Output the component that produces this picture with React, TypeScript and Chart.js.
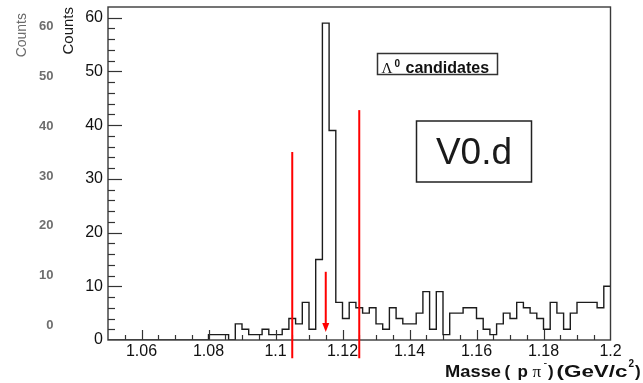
import React, { useEffect, useRef } from "react";
import { Chart, registerables } from "chart.js";

Chart.register(...registerables);

// ---- data ----
const binLow = 1.05;
const binWidth = 0.002;
const counts = [
  0, 0, 0, 0, 0, 0, 0, 0, 0, 0, 0, 0, 0, 0, 0,
  1, 1, 1, 0, 3, 2, 1, 1, 2, 1, 1, 2, 4, 3, 7, 2, 15, 59, 39, 7,
  4, 7, 6, 5, 6, 3, 2, 6, 4, 3, 3, 5, 9, 2, 9, 1, 5, 5, 6, 6,
  4, 2, 1, 3, 5, 4, 7, 6, 5, 4, 2, 7, 5, 2, 5, 7, 7, 7, 6, 10,
];
const xMin = 1.05;
const xMax = 1.2;
const yMin = 0;
const yMax = 62;
const xTicks = [1.06, 1.08, 1.1, 1.12, 1.14, 1.16, 1.18, 1.2];
const xTickLabels = ["1.06", "1.08", "1.1", "1.12", "1.14", "1.16", "1.18", "1.2"];
const yTicks = [0, 10, 20, 30, 40, 50, 60];
const yTickLabels = ["0", "10", "20", "30", "40", "50", "60"];
const xMinorStep = 0.005;
const yMinorStep = 2;

const cutPositions = [1.105, 1.125];
const cutTops = [35, 42.8];
const cutBottom = -3.4;
const arrowX = 1.115;
const arrowTop = 12.7;
const arrowTip = 1.5;

const ghostTicks = [60, 50, 40, 30, 20, 10, 0];
const ghostTickLabels = ["60", "50", "40", "30", "20", "10", "0"];

const yTitle = "Counts";
const legendLabel = "candidates";
const legendSymbol = "Λ";
const legendSup = "0";
const boxText = "V0.d";

const FONT = "'Liberation Sans', Arial, Helvetica, sans-serif";
const SERIF = "'Liberation Serif', 'DejaVu Serif', serif";

const overlayPlugin = {
  id: "rootOverlay",
  afterDraw(chart: any) {
    const ctx = chart.ctx as CanvasRenderingContext2D;
    const xs = chart.scales.x;
    const ys = chart.scales.y;
    const yg = chart.scales.y2;
    const { left, right, top, bottom } = chart.chartArea;
    ctx.save();

    // frame
    ctx.strokeStyle = "#3a3a3a";
    ctx.lineWidth = 1.4;
    ctx.strokeRect(left, top, right - left, bottom - top);

    // x ticks (inward)
    ctx.strokeStyle = "#333";
    ctx.lineWidth = 1.2;
    for (let k = 1; xMin + k * xMinorStep < xMax - 1e-9; k++) {
      const v = xMin + k * xMinorStep;
      const major = xTicks.some((t) => Math.abs(t - v) < 1e-6);
      const px = Math.round(xs.getPixelForValue(v)) + 0.5;
      ctx.beginPath();
      ctx.moveTo(px, bottom);
      ctx.lineTo(px, bottom - (major ? 10 : 5));
      ctx.stroke();
    }
    // y ticks (inward)
    for (let v = yMinorStep; v < yMax; v += yMinorStep) {
      const major = v % 10 === 0;
      const py = Math.round(ys.getPixelForValue(v)) + 0.5;
      ctx.beginPath();
      ctx.moveTo(left, py);
      ctx.lineTo(left + (major ? 14 : 7), py);
      ctx.stroke();
    }

    // red cut lines
    ctx.strokeStyle = "#ff0000";
    ctx.lineWidth = 2;
    cutPositions.forEach((c, i) => {
      const px = xs.getPixelForValue(c);
      ctx.beginPath();
      ctx.moveTo(px, ys.getPixelForValue(cutTops[i]));
      ctx.lineTo(px, ys.getPixelForValue(cutBottom));
      ctx.stroke();
    });
    // arrow
    const ax = xs.getPixelForValue(arrowX);
    const aTop = ys.getPixelForValue(arrowTop);
    const aTip = ys.getPixelForValue(arrowTip);
    ctx.beginPath();
    ctx.moveTo(ax, aTop);
    ctx.lineTo(ax, aTip - 6);
    ctx.stroke();
    ctx.fillStyle = "#ff0000";
    ctx.beginPath();
    ctx.moveTo(ax, aTip);
    ctx.lineTo(ax - 3.5, aTip - 9);
    ctx.lineTo(ax + 3.5, aTip - 9);
    ctx.closePath();
    ctx.fill();

    // legend box "Λ0 candidates"
    ctx.fillStyle = "#fff";
    ctx.fillRect(377.5, 53.5, 120, 21);
    ctx.strokeStyle = "#333";
    ctx.lineWidth = 1.5;
    ctx.strokeRect(377.5, 53.5, 120, 21);
    ctx.fillStyle = "#111";
    ctx.textAlign = "left";
    ctx.textBaseline = "alphabetic";
    ctx.font = `15px ${SERIF}`;
    ctx.fillText(legendSymbol, 381.5, 72.5);
    ctx.font = `bold 10px ${FONT}`;
    ctx.fillText(legendSup, 394.5, 67);
    ctx.font = `bold 16px ${FONT}`;
    ctx.fillText(legendLabel, 405.5, 72.5);

    // "V0.d" box
    ctx.fillStyle = "#fff";
    ctx.fillRect(416.5, 121, 115, 61);
    ctx.strokeStyle = "#222";
    ctx.lineWidth = 1.5;
    ctx.strokeRect(416.5, 121, 115, 61);
    ctx.fillStyle = "#1a1a1a";
    ctx.font = `37px ${FONT}`;
    ctx.textAlign = "center";
    ctx.fillText(boxText, 474, 163.5);

    // x axis title (rich text)
    const drawFit = (t: string, font: string, x: number, w: number, y: number) => {
      ctx.font = font;
      const nat = ctx.measureText(t).width;
      ctx.save();
      ctx.translate(x, y);
      ctx.scale(w / nat, 1);
      ctx.fillText(t, 0, 0);
      ctx.restore();
    };
    ctx.fillStyle = "#111";
    ctx.textAlign = "left";
    const bf = `bold 17px ${FONT}`;
    drawFit("Masse", bf, 445, 56, 377);
    ctx.font = bf;
    ctx.fillText("(", 504.5, 377);
    ctx.fillText("p", 517.5, 377);
    ctx.font = `17px ${SERIF}`;
    ctx.fillText("π", 532.5, 377);
    ctx.font = `11px ${FONT}`;
    ctx.fillText("-", 543.5, 366);
    ctx.font = bf;
    ctx.fillText(")", 548, 377);
    drawFit("(GeV/c", bf, 556.5, 71, 377);
    ctx.font = `bold 10px ${FONT}`;
    ctx.fillText("2", 628.5, 367);
    ctx.font = bf;
    ctx.fillText(")", 635, 377);

    // y axis title
    ctx.save();
    ctx.translate(68.5, 7);
    ctx.rotate(-Math.PI / 2);
    ctx.textAlign = "right";
    ctx.textBaseline = "middle";
    ctx.font = `15px ${FONT}`;
    ctx.fillStyle = "#1a1a1a";
    ctx.fillText(yTitle, 0, 0);
    ctx.restore();

    // ghost axis (faint, left)
    ctx.fillStyle = "#6e6e6e";
    ctx.font = `bold 13px ${FONT}`;
    ctx.textAlign = "right";
    ctx.textBaseline = "middle";
    ghostTicks.forEach((v, i) => {
      ctx.fillText(ghostTickLabels[i], 53.5, yg.getPixelForValue(v));
    });
    ctx.save();
    ctx.translate(22, 13);
    ctx.rotate(-Math.PI / 2);
    ctx.textAlign = "right";
    ctx.textBaseline = "middle";
    ctx.font = `14px ${FONT}`;
    ctx.fillStyle = "#6a6a6a";
    ctx.fillText(yTitle, 0, 0);
    ctx.restore();

    ctx.restore();
  },
};

export default function App() {
  const ref = useRef<HTMLCanvasElement | null>(null);

  useEffect(() => {
    document.body.style.margin = "0";
    const canvas = ref.current;
    if (!canvas) return;
    const points = counts.map((c, i) => ({ x: binLow + i * binWidth, y: c }));
    points.push({ x: binLow + counts.length * binWidth, y: counts[counts.length - 1] });

    const chart = new Chart(canvas, {
      type: "line",
      data: {
        datasets: [
          {
            data: points,
            stepped: "before",
            borderColor: "#1c1c1c",
            borderWidth: 1.4,
            pointRadius: 0,
            fill: false,
            tension: 0,
          } as any,
        ],
      },
      options: {
        responsive: false,
        animation: false,
        devicePixelRatio: 1,
        layout: { padding: { left: 0, right: 32.5, top: 7, bottom: 0 } },
        plugins: {
          legend: { display: false },
          tooltip: { enabled: false },
          title: { display: false },
        },
        scales: {
          x: {
            type: "linear",
            min: xMin,
            max: xMax,
            grid: { display: false, drawTicks: false },
            border: { display: false },
            afterBuildTicks: (s: any) => {
              s.ticks = xTicks.map((v) => ({ value: v }));
            },
            afterFit: (s: any) => {
              s.height = 43;
              s.paddingLeft = 0;
              s.paddingRight = 0;
            },
            ticks: {
              autoSkip: false,
              maxRotation: 0,
              padding: 2,
              color: "#111",
              font: { family: FONT, size: 16 },
              callback: (_v: any, i: number) => xTickLabels[i],
            },
          },
          y: {
            type: "linear",
            min: yMin,
            max: yMax,
            grid: { display: false, drawTicks: false },
            border: { display: false },
            afterBuildTicks: (s: any) => {
              s.ticks = yTicks.map((v) => ({ value: v }));
            },
            afterFit: (s: any) => {
              s.width = 108;
              s.paddingTop = 0;
              s.paddingBottom = 0;
            },
            ticks: {
              padding: 5,
              color: "#111",
              font: { family: FONT, size: 16 },
              callback: (_v: any, i: number) => yTickLabels[i],
            },
          },
          y2: {
            type: "linear",
            display: false,
            min: -3.02,
            max: 64,
          },
        },
      } as any,
      plugins: [overlayPlugin],
    });
    return () => chart.destroy();
  }, []);

  return (
    <div style={{ position: "absolute", left: 0, top: 0, width: 643, height: 383 }}>
      <canvas ref={ref} width={643} height={383} style={{ display: "block" }} />
    </div>
  );
}
